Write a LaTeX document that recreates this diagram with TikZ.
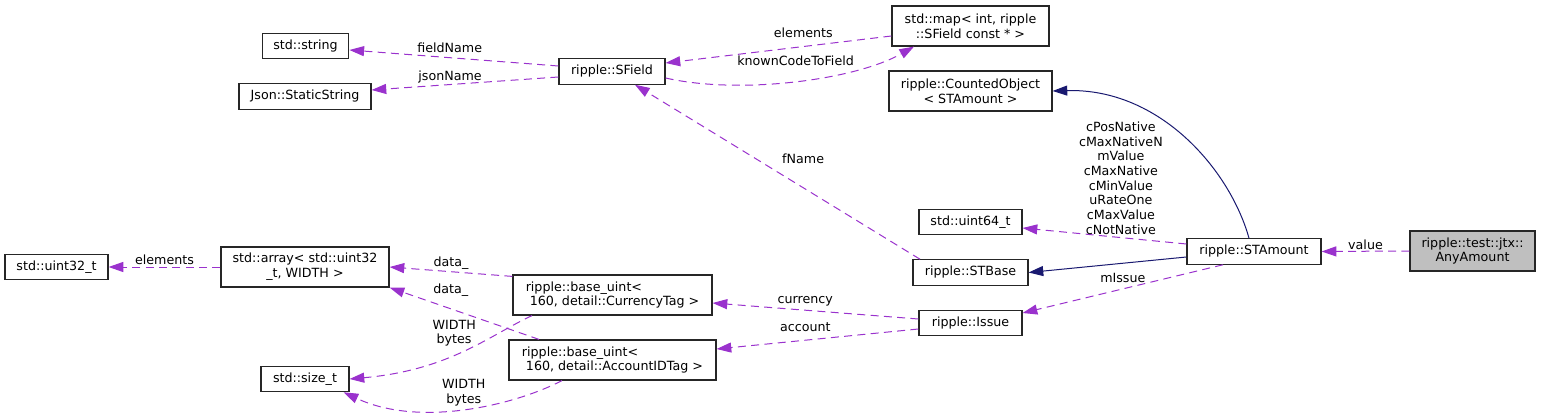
\documentclass[tikz,border=0pt]{standalone}
\usepackage{fontspec}
\setmainfont{DejaVu Sans}
\usepackage{xcolor}
\usepackage{tikz}
\usetikzlibrary{arrows.meta}
\definecolor{usecol}{HTML}{9A32CD}
\definecolor{inhcol}{HTML}{191970}
\definecolor{selcol}{HTML}{BFBFBF}

\begin{document}
\begin{tikzpicture}[x=0.75pt,y=-0.75pt,
  box/.style={draw=black!85,line width=0.9pt,fill=white,inner sep=1pt,align=center,
    font=\fontsize{9.5}{11}\selectfont,minimum height=19pt},
  lbl/.style={inner sep=1pt,align=center,text=black,font=\fontsize{9.5}{11}\selectfont},
  use/.style={draw=usecol,line width=0.75pt,dash pattern=on 6pt off 4pt},
  inh/.style={draw=inhcol,line width=0.75pt},
  >={Triangle[length=11pt,width=7.5pt]}]
  \useasboundingbox (0,0) rectangle (1541,417);
  % classes
  \node[box,minimum width=65pt] (str) at (305.5,46) {std::string};
  \node[box,minimum width=99pt] (json) at (305,96.5) {Json::StaticString};
  \node[box,minimum width=79.5pt] (sfield) at (612,71.5) {ripple::SField};
  \node[box,minimum width=117.75pt,minimum height=30pt] (map) at (970.5,26)
    {std::map< int, ripple\\::SField const * >};
  \node[box,minimum width=122.25pt,minimum height=30pt] (cnt) at (970.5,91)
    {ripple::CountedObject\\< STAmount >};
  \node[box,minimum width=77.25pt] (u64) at (970.5,222) {std::uint64\_t};
  \node[box,minimum width=86.25pt] (stbase) at (970.5,272.5) {ripple::STBase};
  \node[box,minimum width=77.25pt] (issue) at (970.5,323) {ripple::Issue};
  \node[box,minimum width=100.5pt] (amt) at (1254,251.5) {ripple::STAmount};
  \node[box,minimum width=93.75pt,minimum height=30pt,fill=selcol] (any) at (1472.5,251)
    {ripple::test::jtx::\\AnyAmount};
  \node[box,minimum width=77.25pt] (u32) at (56.5,267) {std::uint32\_t};
  \node[box,minimum width=126pt,minimum height=30pt] (arr) at (305,267)
    {std::array< std::uint32\\\_t, WIDTH >};
  \node[box,minimum width=66pt] (sizet) at (305,379) {std::size\_t};
  \node[box,align=left,minimum width=149.25pt,minimum height=30pt] (cur) at (612.5,295)
    {ripple::base\_uint<\\\hspace*{3pt}160, detail::CurrencyTag >};
  \node[box,align=left,minimum width=155.25pt,minimum height=30pt] (acc) at (612.5,360)
    {ripple::base\_uint<\\\hspace*{3pt}160, detail::AccountIDTag >};
  % inheritance
  \draw[inh,->] ([shift={(-5,0)}]amt.north) .. controls (1230,170) and (1160,88) .. (cnt.east);
  \draw[inh,->] ([shift={(0,5.5)}]amt.west) -- (stbase.east);
  % members
  \draw[use,->] (any.west) -- node[lbl,above]{value} (amt.east);
  \draw[use,->] ([shift={(0,-7.5)}]amt.west) -- node[lbl,pos=0.4,above=1pt]
    {cPosNative\\cMaxNativeN\\mValue\\cMaxNative\\cMinValue\\uRateOne\\cMaxValue\\cNotNative}
    ([shift={(0,6)}]u64.east);
  \draw[use,->] ([shift={(-31,0)}]amt.south) -- node[lbl,pos=0.5,above=3pt]{mIssue}
    ([shift={(0,-10)}]issue.east);
  \draw[use,->] ([shift={(-50.5,0)}]stbase.north) -- node[lbl,pos=0.41,above=17pt]{fName}
    ([shift={(23,0)}]sfield.south);
  \draw[use,->] ([shift={(0,-5.5)}]sfield.west) -- node[lbl,pos=0.52,above=2.5pt]{fieldName}
    ([shift={(0,4)}]str.east);
  \draw[use,->] ([shift={(0,5.5)}]sfield.west) -- node[lbl,pos=0.58,above]{jsonName}
    ([shift={(0,-6.5)}]json.east);
  \draw[use,->] ([shift={(0,10)}]map.west) -- node[lbl,pos=0.39,above=5pt]{elements}
    ([shift={(0,-8.5)}]sfield.east);
  \draw[use,->] ([shift={(0,6.5)}]sfield.east) .. controls (740,95) and (855,80) ..
    node[lbl,pos=0.5,above=10pt]{knownCodeToField} ([shift={(-56.5,0)}]map.south);
  \draw[use,->] (arr.west) -- node[lbl,above]{elements} (u32.east);
  \draw[use,->] ([shift={(0,2)}]cur.north west) -- node[lbl,pos=0.5,above]{data\_} (arr.east);
  \draw[use,->] ([shift={(-73.5,0)}]acc.north) -- node[lbl,pos=0.59,above=8pt]{data\_}
    (arr.south east);
  \draw[use,->] ([shift={(-80.5,0)}]cur.south) .. controls (490,335) and (450,370) ..
    node[lbl,pos=0.55,above=5pt]{WIDTH\\bytes} (sizet.east);
  \draw[use,->] ([shift={(-50.5,0)}]acc.south) .. controls (515,405) and (420,428) ..
    node[lbl,pos=0.5,above=1pt]{WIDTH\\bytes} ([shift={(-6,0)}]sizet.south east);
  \draw[use,->] ([shift={(0,-4)}]issue.west) -- node[lbl,pos=0.55,above=1.5pt]{currency}
    ([shift={(0,8)}]cur.east);
  \draw[use,->] ([shift={(0,6)}]issue.west) -- node[lbl,pos=0.56,above=5pt]{account}
    ([shift={(0,-11)}]acc.east);
\end{tikzpicture}
\end{document}
